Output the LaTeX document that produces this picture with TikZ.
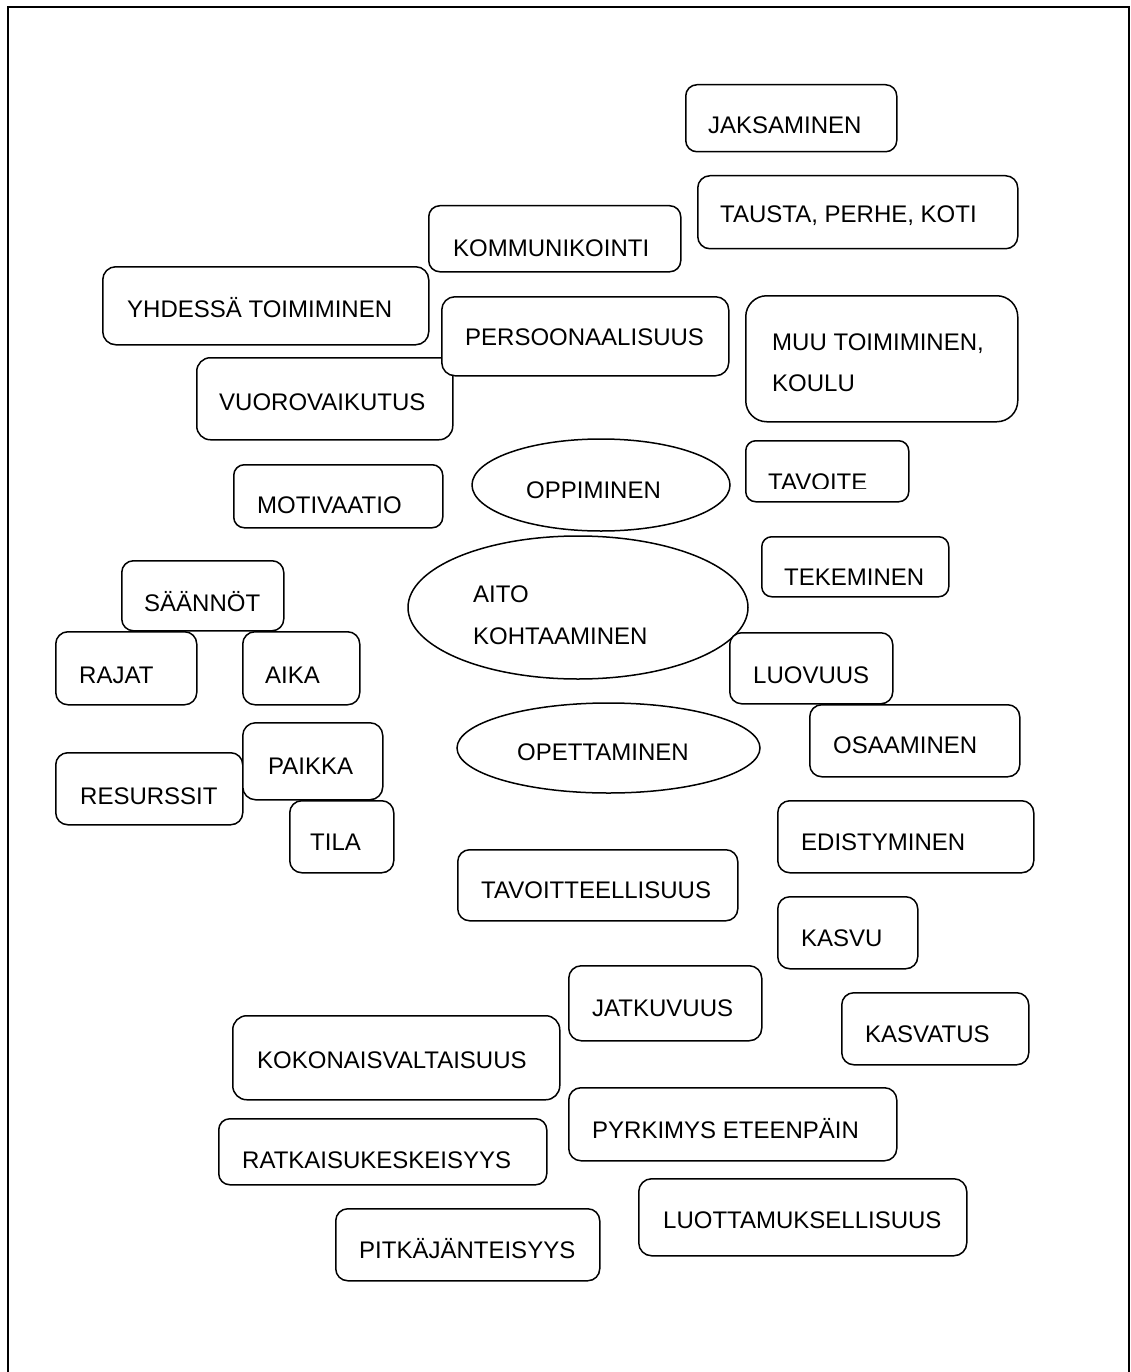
\documentclass[tikz,border=0pt]{standalone}
\usepackage{fontspec}
\setmainfont{Liberation Sans}
\usetikzlibrary{shapes.geometric}
\tikzset{
  tbox/.style={draw, fill=white, line width=1.5pt, inner sep=0pt},
  ell/.style={ellipse, draw, fill=white, line width=1.5pt, inner sep=0pt},
  lbl/.style={anchor=base west, inner sep=0pt, font=\fontsize{24}{28}\selectfont},
  frame/.style={draw, line width=2pt}
}
% name, x1, y1, x2, y2, text-x, baseline-y, text
\newcommand\tb[8]{%
  \pgfmathsetmacro\bw{#4-#2}%
  \pgfmathsetmacro\bh{#5-#3}%
  \pgfmathsetmacro\br{min(\bw,\bh)/6}%
  \node[tbox, rounded corners=\br pt, minimum width=\bw pt, minimum height=\bh pt, anchor=north west] (#1) at (#2,#3) {};
  \node[lbl] (#1-t) at (#6,#7) {#8};}
\begin{document}
\begin{tikzpicture}[x=1pt,y=-1pt]
\useasboundingbox (0,0) rectangle (1131,1372);
\fill[white] (0,0) rectangle (1131,1372);
\coordinate (f1) at (8,7);
\coordinate (f2) at (1129,1390);
\draw[frame] (f1) rectangle (f2);

\tb{jak}{685}{84}{896}{151}{708}{134}{JAKSAMINEN}
\tb{tau}{697}{175}{1017}{248}{720}{223}{TAUSTA, PERHE, KOTI}
\tb{kom}{428}{205}{680}{271}{453}{256}{KOMMUNIKOINTI}
\tb{yhd}{102}{266}{428}{344}{127}{317}{YHDESSÄ TOIMIMINEN}
\tb{vuo}{196}{357}{452}{439}{219}{410}{VUOROVAIKUTUS}
\tb{per}{441}{296}{728}{375}{465}{345}{PERSOONAALISUUS}
% MUU TOIMIMINEN, KOULU
\pgfmathsetmacro\mr{126/6}
\node[tbox, rounded corners=\mr pt, minimum width=272pt, minimum height=126pt, anchor=north west] (muu) at (745,295) {};
\node[lbl] (muu-t1) at (772,350) {MUU TOIMIMINEN,};
\node[lbl] (muu-t2) at (772,391) {KOULU};

\tb{mot}{233}{464}{442}{527}{257}{513}{MOTIVAATIO}

\node[ell, minimum width=258pt, minimum height=92pt] (opp) at (601,485) {};
\node[lbl] (opp-t) at (526,498) {OPPIMINEN};

% TAVOITE (text clipped at the bottom)
\node[tbox, rounded corners=10pt, minimum width=163pt, minimum height=61pt, anchor=north west] (tav) at (745,440) {};
\begin{scope}
  \clip (746,441) rectangle (907,488);
  \node[lbl] (tav-t) at (768,490) {TAVOITE};
\end{scope}

\tb{saa}{121}{560}{283}{630}{144}{611}{SÄÄNNÖT}

\node[ell, minimum width=340pt, minimum height=143pt] (aito) at (578,607.5) {};
\node[lbl] (aito-t1) at (473,602) {AITO};
\node[lbl] (aito-t2) at (473,644) {KOHTAAMINEN};

\tb{tek}{761}{536}{948}{596}{784}{585}{TEKEMINEN}
\tb{raj}{55}{631}{196}{704}{79}{683}{RAJAT}
\tb{aik}{242}{631}{359}{704}{265}{683}{AIKA}
\tb{luo}{729}{632}{892}{703}{753}{683}{LUOVUUS}
\tb{osa}{809}{704}{1019}{776}{833}{753}{OSAAMINEN}

\node[ell, minimum width=303pt, minimum height=90pt] (ope) at (608.5,748) {};
\node[lbl] (ope-t) at (517,760) {OPETTAMINEN};

\tb{res}{55}{752}{242}{824}{80}{804}{RESURSSIT}
\tb{pai}{242}{722}{382}{799}{268}{774}{PAIKKA}
\tb{til}{289}{800}{393}{872}{310}{850}{TILA}
\tb{edi}{777}{800}{1033}{872}{801}{850}{EDISTYMINEN}
\tb{tavo}{457}{849}{737}{920}{481}{898}{TAVOITTEELLISUUS}
\tb{kas}{777}{896}{917}{968}{801}{946}{KASVU}
\tb{jat}{568}{965}{761}{1040}{592}{1016}{JATKUVUUS}
\tb{kast}{841}{992}{1028}{1064}{865}{1042}{KASVATUS}
\tb{kok}{232}{1015}{559}{1099}{257}{1068}{KOKONAISVALTAISUUS}
\tb{pyr}{568}{1087}{896}{1160}{592}{1138}{PYRKIMYS ETEENPÄIN}
\tb{rat}{218}{1118}{546}{1184}{242}{1168}{RATKAISUKESKEISYYS}
\tb{luot}{638}{1178}{966}{1255}{663}{1228}{LUOTTAMUKSELLISUUS}
\tb{pit}{335}{1208}{599}{1280}{359}{1258}{PITKÄJÄNTEISYYS}
\end{tikzpicture}
\end{document}
